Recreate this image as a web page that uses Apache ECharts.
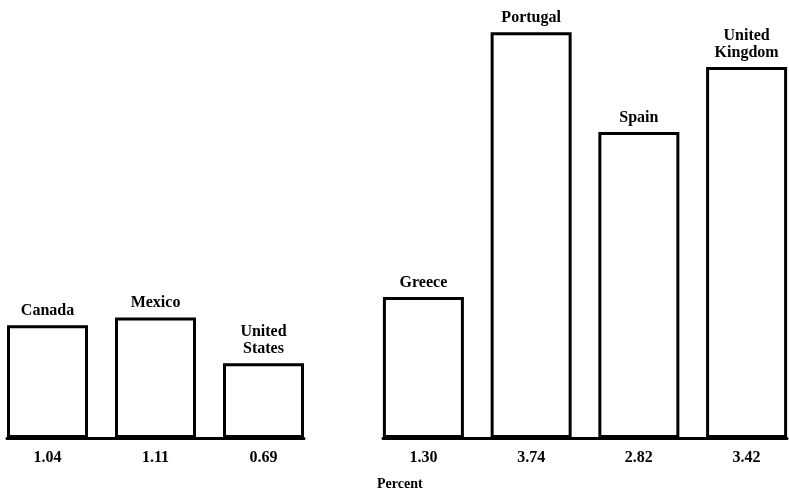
<!DOCTYPE html>
<html>
<head>
<meta charset="utf-8">
<script src="https://cdn.jsdelivr.net/npm/echarts@6/dist/echarts.min.js"></script>
<style>html,body{margin:0;padding:0;background:#fff}#c{width:789px;height:494px}</style>
</head>
<body>
<div id="c"></div>
<script>
const leftNames = ['Canada', 'Mexico', 'United\nStates'];
const leftValues = [1.04, 1.11, 0.69];
const rightNames = ['Greece', 'Portugal', 'Spain', 'United\nKingdom'];
const rightValues = [1.30, 3.74, 2.82, 3.42];
const axisTitle = 'Percent';

const FONT = '"Liberation Serif", "DejaVu Serif", serif';
const chart = echarts.init(document.getElementById('c'), null, {renderer: 'canvas'});

function toData(vals) { return vals.map((v, i) => [i, v]); }

function barPair(names, vals, gi) {
  return [
    {
      type: 'bar', xAxisIndex: gi, yAxisIndex: gi,
      data: toData(vals), barWidth: 81, barGap: '-100%',
      itemStyle: {color: '#fff', borderColor: '#000', borderWidth: 3},
      label: {
        show: true, position: 'top', distance: 6,
        formatter: p => names[p.dataIndex],
        fontFamily: FONT, fontWeight: 'bold', fontSize: 16, color: '#000', lineHeight: 17
      },
      silent: true, animation: false, z: 2
    },
    {
      type: 'bar', xAxisIndex: gi, yAxisIndex: gi,
      data: toData(vals), barWidth: 81, barGap: '-100%',
      itemStyle: {color: 'rgba(0,0,0,0)', borderWidth: 0},
      label: {
        show: true, position: 'bottom', distance: 12,
        formatter: p => p.value[1].toFixed(2),
        fontFamily: FONT, fontWeight: 'bold', fontSize: 16, color: '#000'
      },
      silent: true, animation: false, z: 1
    }
  ];
}

const xCommon = {
  type: 'value',
  axisLine: {show: true, onZero: true, lineStyle: {color: '#000', width: 3}},
  axisTick: {show: false}, axisLabel: {show: false}, splitLine: {show: false}
};
const yCommon = {
  type: 'value', min: 0, max: 4,
  axisLine: {show: false}, axisTick: {show: false}, axisLabel: {show: false}, splitLine: {show: false}
};

chart.setOption({
  backgroundColor: '#fff',
  animation: false,
  title: {
    text: axisTitle, left: 372, top: 472,
    textStyle: {fontFamily: FONT, fontWeight: 'bold', fontSize: 14, color: '#000'}
  },
  grid: [
    {left: 7, width: 297, top: 4, bottom: 56},
    {left: 383, width: 404, top: 4, bottom: 56}
  ],
  xAxis: [
    Object.assign({gridIndex: 0, min: -0.375, max: leftValues.length - 1 + 0.375}, xCommon),
    Object.assign({gridIndex: 1, min: -0.375, max: rightValues.length - 1 + 0.375}, xCommon)
  ],
  yAxis: [
    Object.assign({gridIndex: 0}, yCommon),
    Object.assign({gridIndex: 1}, yCommon)
  ],
  series: [...barPair(leftNames, leftValues, 0), ...barPair(rightNames, rightValues, 1)]
});
</script>
</body>
</html>
